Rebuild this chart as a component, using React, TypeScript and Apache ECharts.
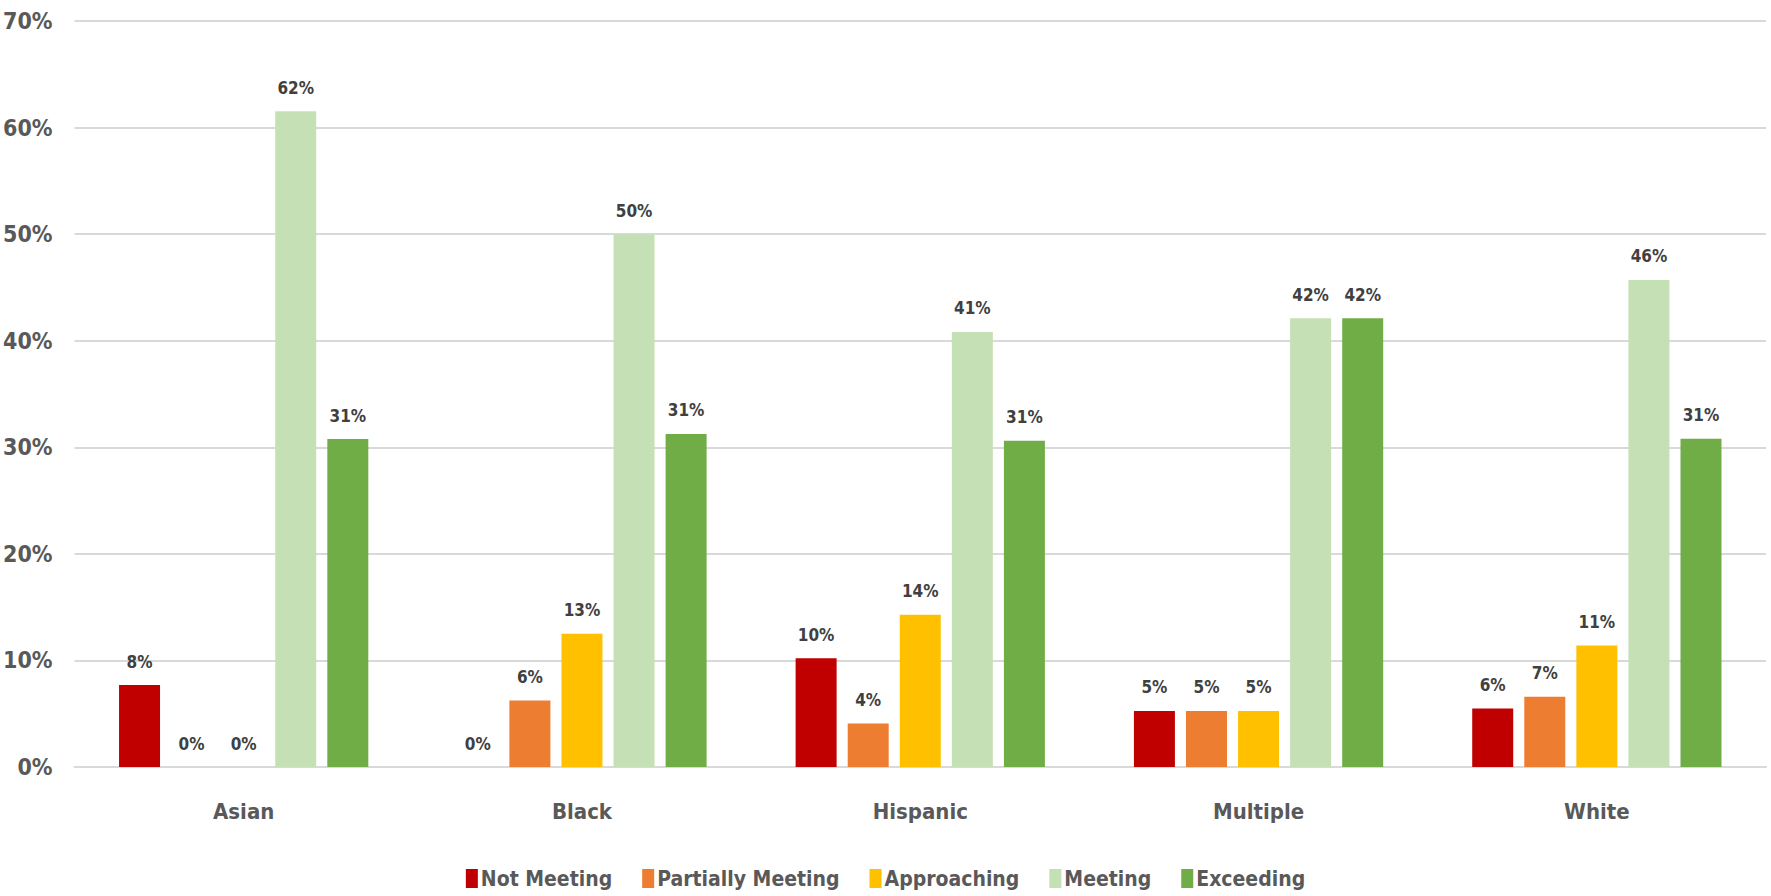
import React, { useEffect, useRef } from "react";
import * as echarts from "echarts";

const categories = ["Asian", "Black", "Hispanic", "Multiple", "White"];
const seriesNames = ["Not Meeting", "Partially Meeting", "Approaching", "Meeting", "Exceeding"];
const notMeeting = [7.69, 0, 10.2, 5.26, 5.5];
const partiallyMeeting = [0, 6.25, 4.08, 5.26, 6.6];
const approaching = [0, 12.5, 14.29, 5.26, 11.4];
const meeting = [61.54, 50, 40.82, 42.11, 45.7];
const exceeding = [30.77, 31.25, 30.61, 42.11, 30.8];
const colors = ["#C00000", "#ED7D31", "#FFC000", "#C5E0B4", "#70AD47"];
const yTicks = [0, 10, 20, 30, 40, 50, 60, 70];

const FONT = "'DejaVu Sans Condensed', 'Open Sans', sans-serif";

export default function App() {
  const ref = useRef<HTMLDivElement>(null);
  useEffect(() => {
    document.body.style.margin = "0";
    const chart = echarts.init(ref.current!, null, { renderer: "svg" });
    const data = [notMeeting, partiallyMeeting, approaching, meeting, exceeding];
    chart.setOption({
      animation: false,
      backgroundColor: "#ffffff",
      grid: { left: 74, right: 5, top: 21, bottom: 129, containLabel: false },
      legend: {
        data: seriesNames,
        left: "center",
        top: 868,
        padding: 0,
        icon: "rect",
        itemWidth: 12,
        itemHeight: 19,
        itemGap: 30,
        textStyle: { fontFamily: FONT, fontWeight: "bold", fontSize: 21, color: "#595959", padding: [0, 0, 0, -2] },
      },
      xAxis: {
        type: "category",
        data: categories,
        axisLine: { show: true, lineStyle: { color: "#D9D9D9", width: 2 } },
        axisTick: { show: false },
        axisLabel: { fontFamily: FONT, fontWeight: "bold", fontSize: 22, color: "#595959", margin: 33 },
      },
      yAxis: {
        type: "value",
        min: yTicks[0],
        max: yTicks[yTicks.length - 1],
        interval: 10,
        axisLine: { show: false },
        axisTick: { show: false },
        splitLine: { lineStyle: { color: "#D9D9D9", width: 2 } },
        axisLabel: { formatter: "{value}%", fontFamily: FONT, fontWeight: "bold", fontSize: 23, color: "#595959", margin: 22 },
      },
      series: seriesNames.map((name, i) => ({
        name,
        type: "bar",
        data: data[i],
        barWidth: 41,
        barGap: "27%",
        itemStyle: { color: colors[i] },
        label: {
          show: true,
          position: "top",
          distance: 15,
          formatter: (p: any) => Math.round(p.value) + "%",
          fontFamily: FONT,
          fontWeight: "bold",
          fontSize: 17,
          color: "#404040",
        },
      })),
    });
    return () => chart.dispose();
  }, []);
  return <div ref={ref} style={{ width: 1771, height: 896 }} />;
}
